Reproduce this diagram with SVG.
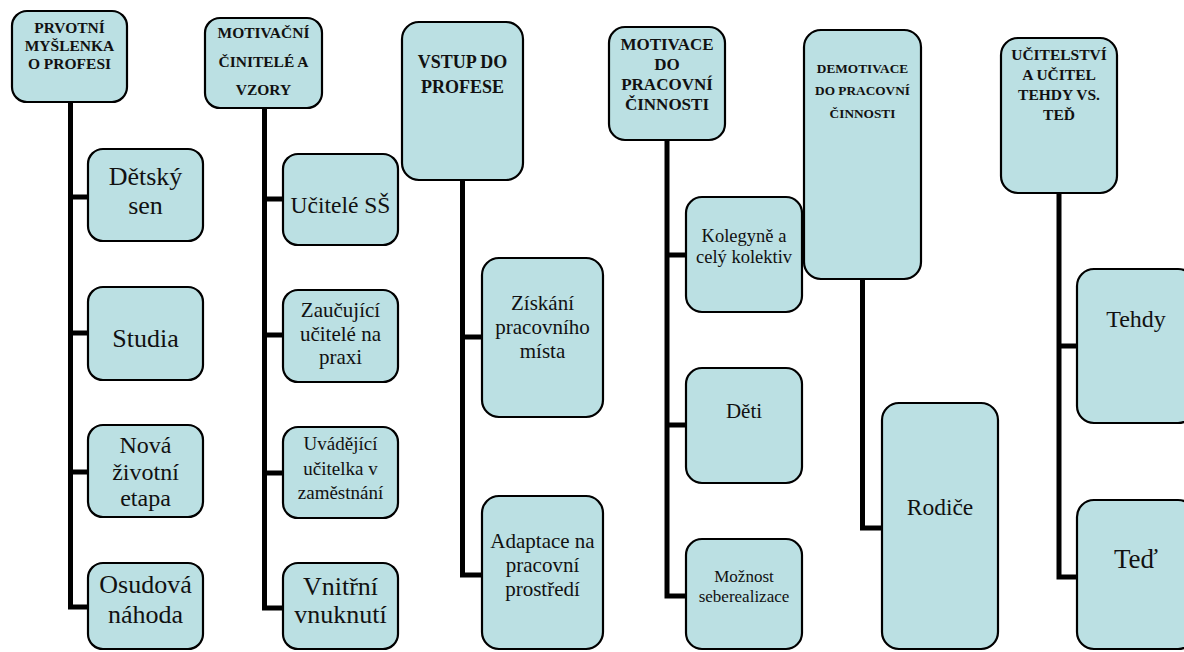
<svg xmlns="http://www.w3.org/2000/svg" width="1184" height="652" viewBox="0 0 1184 652">
<style>
.nodebox{fill:#bbe0e3;stroke:#000;stroke-width:2.2}
.hdrtxt{font-family:'Liberation Serif',serif;font-weight:bold;fill:#111;text-anchor:middle}
.lbltxt{font-family:'Liberation Serif',serif;fill:#111;text-anchor:middle}
.conn{fill:none;stroke:#000;stroke-width:5;stroke-linejoin:miter}
</style>
<rect width="1184" height="652" fill="#fff"/>
<g id="connectors">
<path class="conn" d="M70.5 102 V607 H89 M70.5 197 H89 M70.5 333 H89 M70.5 472 H89"/>
<path class="conn" d="M264.5 108 V608 H284 M264.5 199 H284 M264.5 335 H284 M264.5 473 H284"/>
<path class="conn" d="M462.5 180 V575 H483 M462.5 337 H483"/>
<path class="conn" d="M667 140 V596 H687 M667 255 H687 M667 425 H687"/>
<path class="conn" d="M862.5 279 V528 H883"/>
<path class="conn" d="M1059 193 V577 H1078 M1059 346 H1078"/>
</g>
<g id="n1"><rect class="nodebox" x="12" y="11" width="115" height="91" rx="15"/>
<text class="hdrtxt" style="font-family:'Liberation Serif',serif" font-size="15.5" x="69.5" y="33">PRVOTNÍ</text><text class="hdrtxt" style="font-family:'Liberation Serif',serif" font-size="15.5" x="69.5" y="51">MYŠLENKA</text><text class="hdrtxt" style="font-family:'Liberation Serif',serif" font-size="15.5" x="69.5" y="69">O PROFESI</text></g>
<g id="n1a"><rect class="nodebox" x="88" y="149" width="115" height="92" rx="15"/>
<text class="lbltxt" style="font-family:'Liberation Serif',serif" font-size="26" x="145.5" y="185">Dětský</text><text class="lbltxt" style="font-family:'Liberation Serif',serif" font-size="26" x="145.5" y="214">sen</text></g>
<g id="n1b"><rect class="nodebox" x="88" y="287" width="115" height="93" rx="15"/>
<text class="lbltxt" style="font-family:'Liberation Serif',serif" font-size="26" x="145.5" y="347">Studia</text></g>
<g id="n1c"><rect class="nodebox" x="88" y="425" width="115" height="92" rx="15"/>
<text class="lbltxt" style="font-family:'Liberation Serif',serif" font-size="24" x="145.5" y="453">Nová</text><text class="lbltxt" style="font-family:'Liberation Serif',serif" font-size="24" x="145.5" y="480">životní</text><text class="lbltxt" style="font-family:'Liberation Serif',serif" font-size="24" x="145.5" y="506">etapa</text></g>
<g id="n1d"><rect class="nodebox" x="88" y="563" width="115" height="86" rx="15"/>
<text class="lbltxt" style="font-family:'Liberation Serif',serif" font-size="26" x="145.5" y="593">Osudová</text><text class="lbltxt" style="font-family:'Liberation Serif',serif" font-size="26" x="145.5" y="623">náhoda</text></g>

<g id="n2"><rect class="nodebox" x="205" y="18" width="117" height="90" rx="15"/>
<text class="hdrtxt" style="font-family:'Liberation Serif',serif" font-size="15.5" x="263.5" y="38">MOTIVAČNÍ</text><text class="hdrtxt" style="font-family:'Liberation Serif',serif" font-size="15.5" x="263.5" y="67">ČINITELÉ A</text><text class="hdrtxt" style="font-family:'Liberation Serif',serif" font-size="15.5" x="263.5" y="95">VZORY</text></g>
<g id="n2a"><rect class="nodebox" x="283" y="154" width="115" height="91" rx="15"/>
<text class="lbltxt" style="font-family:'Liberation Serif',serif" font-size="23.5" x="340.5" y="213">Učitelé SŠ</text></g>
<g id="n2b"><rect class="nodebox" x="283" y="290" width="115" height="92" rx="15"/>
<text class="lbltxt" style="font-family:'Liberation Serif',serif" font-size="21" x="340.5" y="317">Zaučující</text><text class="lbltxt" style="font-family:'Liberation Serif',serif" font-size="21" x="340.5" y="341">učitelé na</text><text class="lbltxt" style="font-family:'Liberation Serif',serif" font-size="21" x="340.5" y="364">praxi</text></g>
<g id="n2c"><rect class="nodebox" x="283" y="427" width="115" height="91" rx="15"/>
<text class="lbltxt" style="font-family:'Liberation Serif',serif" font-size="19" x="340.5" y="450">Uvádějící</text><text class="lbltxt" style="font-family:'Liberation Serif',serif" font-size="19" x="340.5" y="475">učitelka v</text><text class="lbltxt" style="font-family:'Liberation Serif',serif" font-size="19" x="340.5" y="499">zaměstnání</text></g>
<g id="n2d"><rect class="nodebox" x="283" y="563" width="115" height="86" rx="15"/>
<text class="lbltxt" style="font-family:'Liberation Serif',serif" font-size="26" x="340.5" y="595">Vnitřní</text><text class="lbltxt" style="font-family:'Liberation Serif',serif" font-size="26" x="340.5" y="623">vnuknutí</text></g>

<g id="n3"><rect class="nodebox" x="402" y="22" width="121" height="158" rx="17"/>
<text class="hdrtxt" style="font-family:'Liberation Serif',serif" font-size="18" x="462.5" y="68">VSTUP DO</text><text class="hdrtxt" style="font-family:'Liberation Serif',serif" font-size="18" x="462.5" y="93">PROFESE</text></g>
<g id="n3a"><rect class="nodebox" x="482" y="258" width="121" height="159" rx="17"/>
<text class="lbltxt" style="font-family:'Liberation Serif',serif" font-size="21" x="542.5" y="310">Získání</text><text class="lbltxt" style="font-family:'Liberation Serif',serif" font-size="21" x="542.5" y="334">pracovního</text><text class="lbltxt" style="font-family:'Liberation Serif',serif" font-size="21" x="542.5" y="358">místa</text></g>
<g id="n3b"><rect class="nodebox" x="482" y="496" width="121" height="153" rx="17"/>
<text class="lbltxt" style="font-family:'Liberation Serif',serif" font-size="21" x="542.5" y="548">Adaptace na</text><text class="lbltxt" style="font-family:'Liberation Serif',serif" font-size="21" x="542.5" y="572">pracovní</text><text class="lbltxt" style="font-family:'Liberation Serif',serif" font-size="21" x="542.5" y="596">prostředí</text></g>

<g id="n4"><rect class="nodebox" x="609" y="27" width="116" height="113" rx="16"/>
<text class="hdrtxt" style="font-family:'Liberation Serif',serif" font-size="17" x="667" y="50">MOTIVACE</text><text class="hdrtxt" style="font-family:'Liberation Serif',serif" font-size="17" x="667" y="70">DO</text><text class="hdrtxt" style="font-family:'Liberation Serif',serif" font-size="17" x="667" y="90">PRACOVNÍ</text><text class="hdrtxt" style="font-family:'Liberation Serif',serif" font-size="17" x="667" y="110">ČINNOSTI</text></g>
<g id="n4a"><rect class="nodebox" x="686" y="197" width="116" height="115" rx="16"/>
<text class="lbltxt" style="font-family:'Liberation Serif',serif" font-size="18.5" x="744" y="242">Kolegyně a</text><text class="lbltxt" style="font-family:'Liberation Serif',serif" font-size="18.5" x="744" y="263">celý kolektiv</text></g>
<g id="n4b"><rect class="nodebox" x="686" y="368" width="116" height="115" rx="16"/>
<text class="lbltxt" style="font-family:'Liberation Serif',serif" font-size="21" x="744" y="418">Děti</text></g>
<g id="n4c"><rect class="nodebox" x="686" y="539" width="116" height="110" rx="16"/>
<text class="lbltxt" style="font-family:'Liberation Serif',serif" font-size="17" x="744" y="582">Možnost</text><text class="lbltxt" style="font-family:'Liberation Serif',serif" font-size="17" x="744" y="602">seberealizace</text></g>

<g id="n5"><rect class="nodebox" x="804" y="30" width="117" height="249" rx="17"/>
<text class="hdrtxt" style="font-family:'Liberation Serif',serif" font-size="13.3" x="862.5" y="73">DEMOTIVACE</text><text class="hdrtxt" style="font-family:'Liberation Serif',serif" font-size="13.3" x="862.5" y="95">DO PRACOVNÍ</text><text class="hdrtxt" style="font-family:'Liberation Serif',serif" font-size="13.3" x="862.5" y="118">ČINNOSTI</text></g>
<g id="n5a"><rect class="nodebox" x="882" y="403" width="116" height="246" rx="17"/>
<text class="lbltxt" style="font-family:'Liberation Serif',serif" font-size="23.5" x="940" y="515">Rodiče</text></g>

<g id="n6"><rect class="nodebox" x="1001" y="38" width="116" height="155" rx="17"/>
<text class="hdrtxt" style="font-family:'Liberation Serif',serif" font-size="15.5" x="1059" y="60">UČITELSTVÍ</text><text class="hdrtxt" style="font-family:'Liberation Serif',serif" font-size="15.5" x="1059" y="80">A UČITEL</text><text class="hdrtxt" style="font-family:'Liberation Serif',serif" font-size="15.5" x="1059" y="100">TEHDY VS.</text><text class="hdrtxt" style="font-family:'Liberation Serif',serif" font-size="15.5" x="1059" y="120">TEĎ</text></g>
<g id="n6a"><rect class="nodebox" x="1077" y="269" width="118" height="154" rx="17"/>
<text class="lbltxt" style="font-family:'Liberation Serif',serif" font-size="24" x="1136" y="327">Tehdy</text></g>
<g id="n6b"><rect class="nodebox" x="1077" y="500" width="118" height="149" rx="17"/>
<text class="lbltxt" style="font-family:'Liberation Serif',serif" font-size="27" x="1136" y="568">Teď</text></g>
</svg>
